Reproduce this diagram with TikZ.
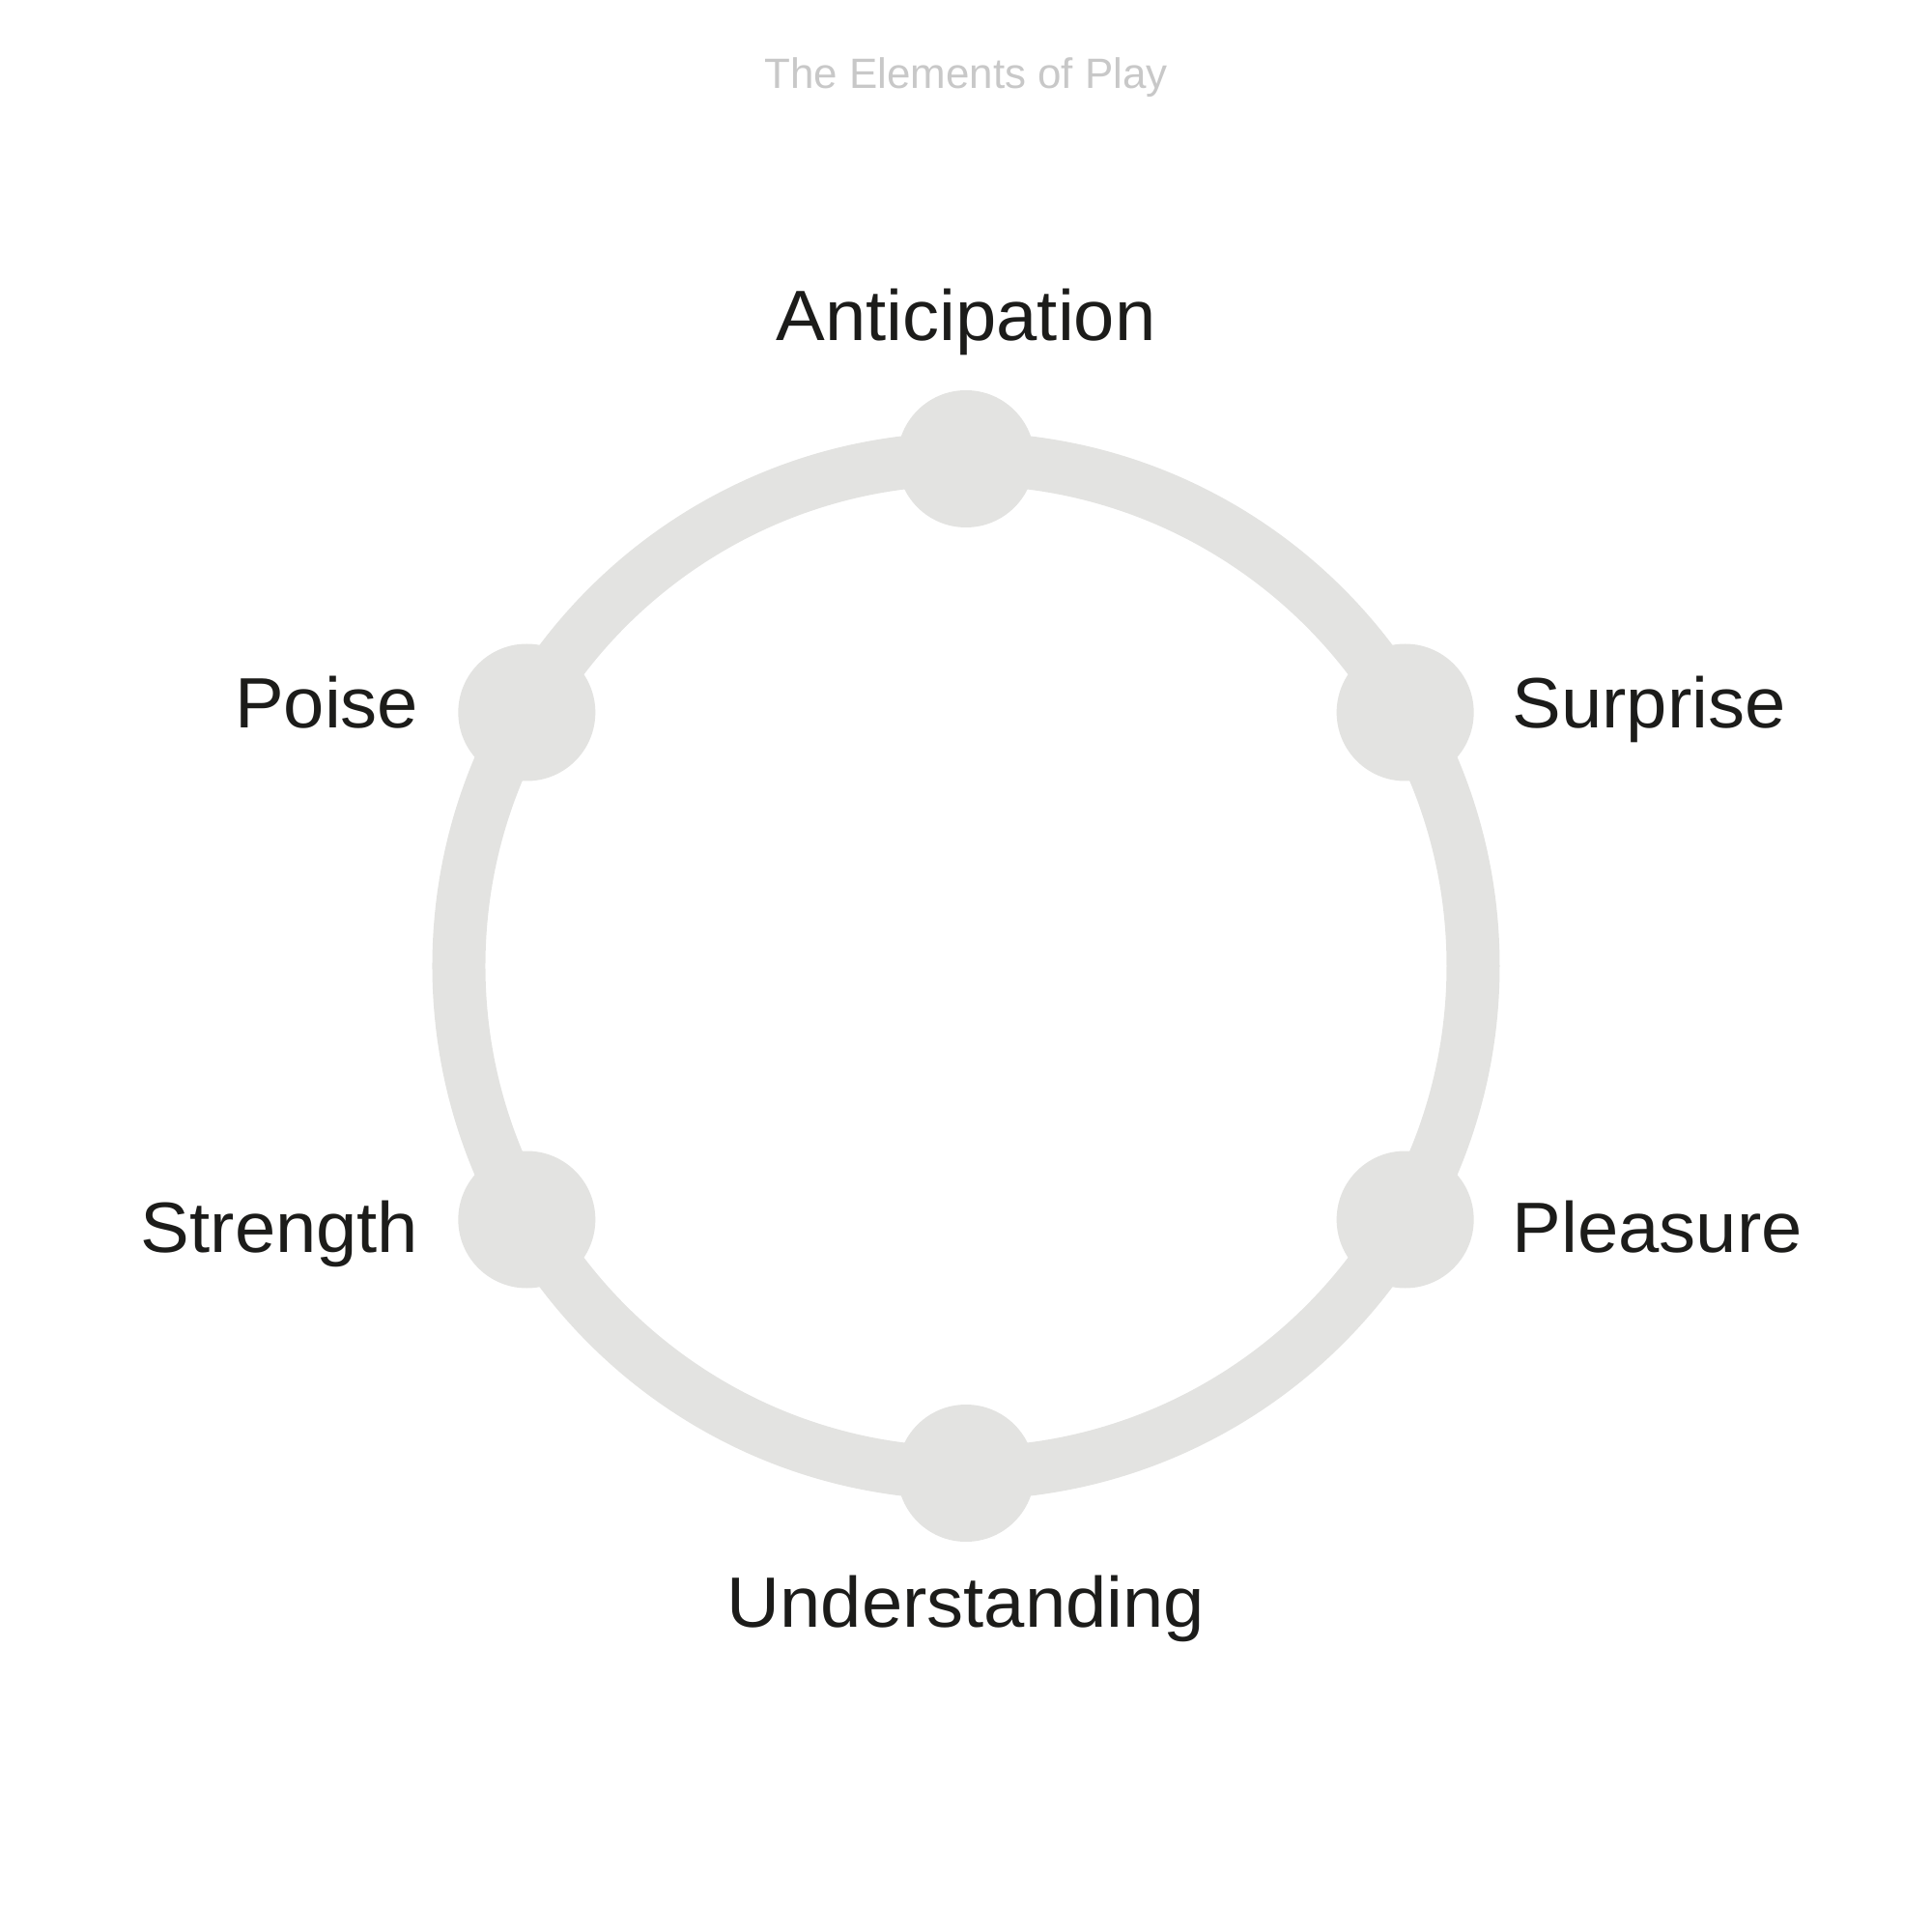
\documentclass[tikz,border=0pt]{standalone}
\usepackage{fontspec}
\setmainfont{Liberation Sans}
\newfontfamily\labelfont[FakeStretch=1.03]{Liberation Sans}
\usepackage{xcolor}
\usetikzlibrary{positioning,calc}

\definecolor{ringgray}{HTML}{E3E3E1}
\definecolor{inkdark}{HTML}{1C1C1A}
\definecolor{titlegray}{HTML}{C8C8C8}

\begin{document}
\begin{tikzpicture}[
  every node/.style={inner sep=0pt, text=inkdark},
  ring/.style={draw=ringgray, line width=5.5mm},
  dot/.style={circle, fill=ringgray, minimum size=14.2mm},
  lbl/.style={font=\labelfont\fontsize{21}{25}\selectfont},
  ttl/.style={font=\fontsize{12.5}{15}\selectfont, text=titlegray},
]
  \useasboundingbox (-10,-10) rectangle (10,10);
  \node[ttl, anchor=base] (title) at (0,9.08) {The Elements of Play};
  % the wheel
  \draw[ring] (0,0) circle (5.25);
  \node[dot] (d1) at (90:5.25) {};
  \node[dot] (d2) at (30:5.25) {};
  \node[dot] (d3) at (-30:5.25) {};
  \node[dot] (d4) at (-90:5.25) {};
  \node[dot] (d5) at (-150:5.25) {};
  \node[dot] (d6) at (150:5.25) {};
  % labels
  \node[lbl, anchor=base] (ant) at (0,6.47) {Anticipation};
  \node[lbl, anchor=base west] (sur) at (5.65,2.46) {Surprise};
  \node[lbl, anchor=base west] (ple) at (5.65,-2.96) {Pleasure};
  \node[lbl, anchor=base] (und) at (0,-6.84) {Understanding};
  \node[lbl, anchor=base east] (str) at (-5.66,-2.96) {Strength};
  \node[lbl, anchor=base east] (poi) at (-5.66,2.46) {Poise};
\end{tikzpicture}
\end{document}
